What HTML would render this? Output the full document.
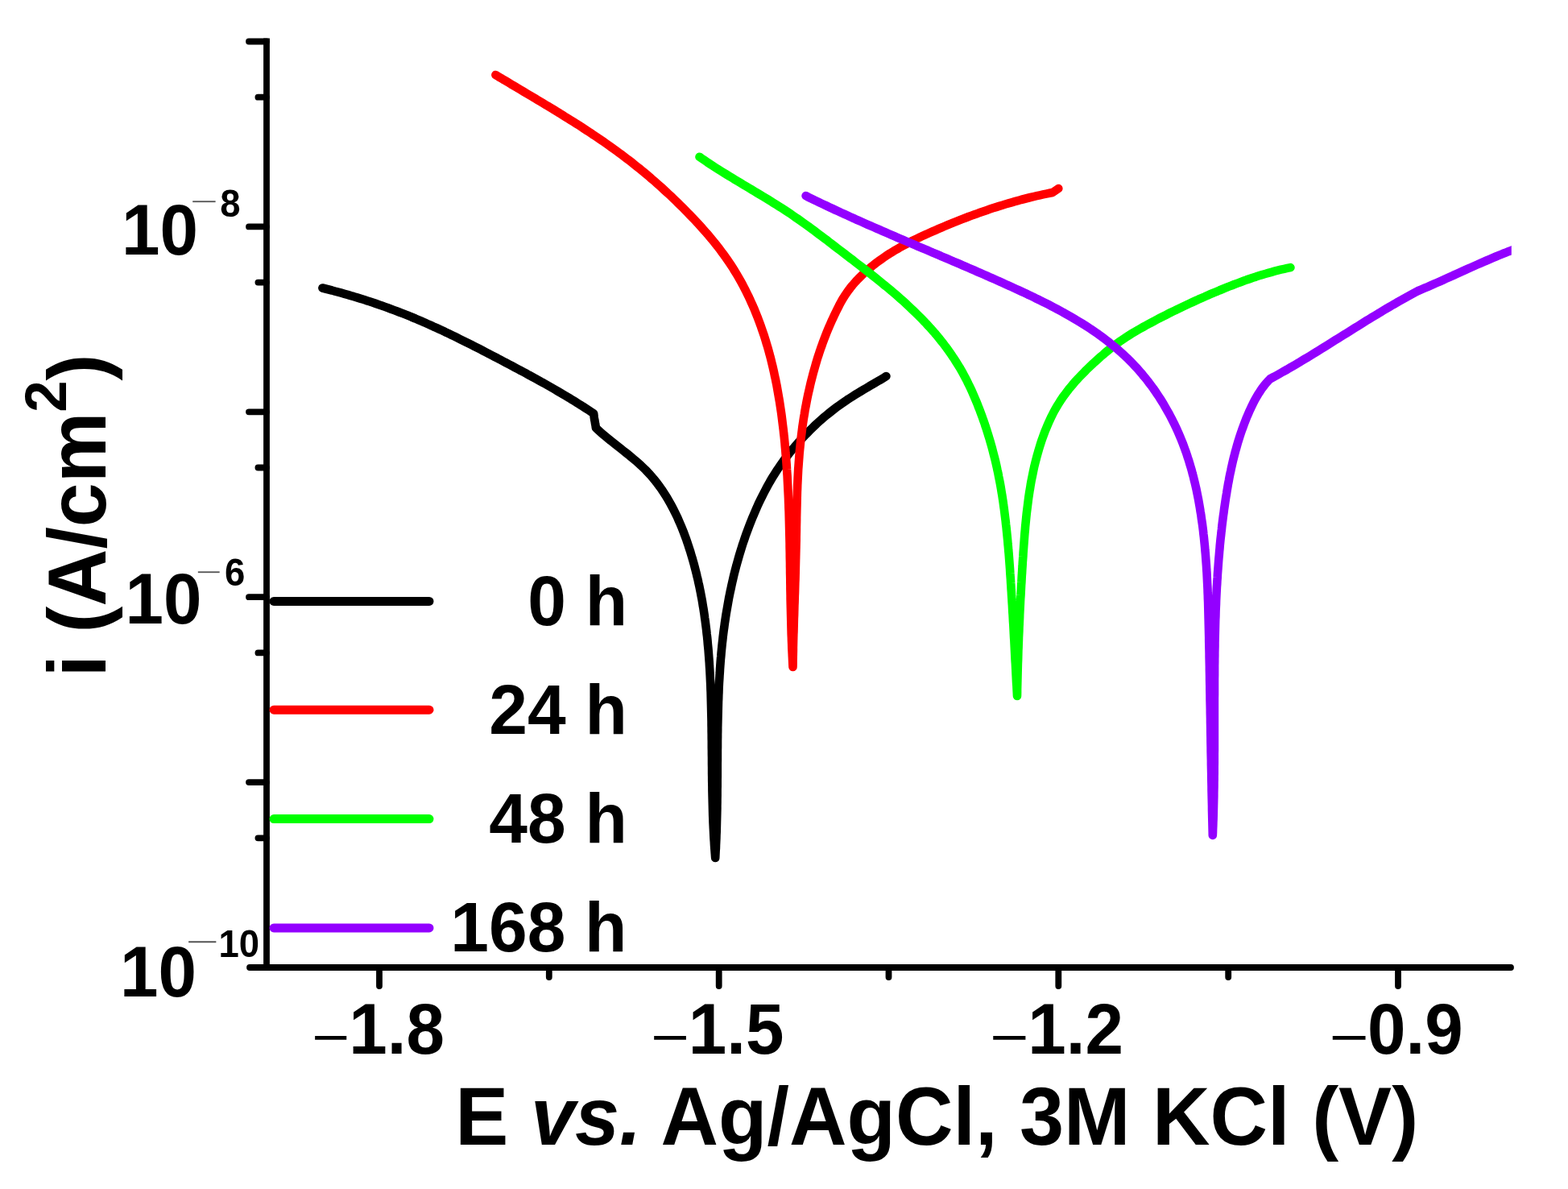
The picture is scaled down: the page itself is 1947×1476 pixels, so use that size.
<!DOCTYPE html>
<html><head><meta charset="utf-8"><title>Polarization curves</title>
<style>
html,body{margin:0;padding:0;background:#fff;}
body{width:1947px;height:1476px;overflow:hidden;}
svg{display:block;}
text{font-family:"Liberation Sans",Arial,sans-serif;fill:#000;}
.b{font-weight:bold;}
</style></head><body>
<svg width="1947" height="1476" viewBox="0 0 1947 1476">
<rect width="1947" height="1476" fill="#fff"/>
<defs><clipPath id="pc"><rect x="331" y="0" width="1545.8" height="1201"/></clipPath></defs>
<g clip-path="url(#pc)">
<path d="M400.4 357.5 L404.3 358.5 L408.3 359.5 L412.2 360.5 L416.1 361.6 L420.0 362.6 L423.9 363.7 L427.8 364.8 L431.7 365.9 L435.6 367.1 L439.5 368.2 L443.4 369.4 L447.3 370.6 L451.2 371.8 L455.0 373.1 L458.9 374.3 L462.7 375.6 L466.6 376.9 L470.4 378.2 L474.2 379.5 L478.0 380.9 L481.9 382.3 L485.7 383.7 L489.5 385.1 L493.2 386.5 L497.0 388.0 L500.8 389.4 L504.6 390.9 L508.3 392.4 L512.1 394.0 L515.8 395.5 L519.5 397.1 L523.2 398.7 L527.0 400.3 L530.7 402.0 L534.4 403.6 L538.0 405.3 L541.7 406.9 L545.4 408.6 L549.1 410.3 L552.7 412.1 L556.4 413.8 L560.0 415.6 L563.7 417.3 L567.3 419.1 L571.0 420.9 L574.6 422.7 L578.2 424.5 L581.8 426.3 L585.4 428.1 L589.1 430.0 L592.7 431.8 L596.3 433.6 L599.9 435.5 L603.5 437.4 L607.1 439.2 L610.7 441.1 L614.3 443.0 L617.9 444.8 L621.4 446.7 L625.0 448.6 L628.6 450.5 L632.2 452.4 L635.8 454.3 L639.4 456.2 L643.0 458.1 L646.5 460.0 L650.1 461.9 L653.7 463.8 L657.2 465.8 L660.8 467.7 L664.3 469.6 L667.9 471.6 L671.4 473.6 L675.0 475.5 L678.5 477.5 L682.0 479.5 L685.5 481.5 L689.0 483.5 L692.5 485.6 L696.0 487.6 L699.5 489.7 L703.0 491.8 L706.5 493.8 L709.9 495.9 L713.4 498.1 L716.8 500.2 L720.2 502.4 L723.7 504.5 L727.1 506.7 L730.5 508.9 L733.8 511.1 L737.2 513.4 L737.5 516.0 L737.8 518.5 L738.2 521.0 L738.7 523.6 L739.1 526.1 L739.6 528.7 L739.9 531.2 L742.8 533.9 L745.8 536.6 L748.8 539.2 L751.9 541.8 L755.0 544.3 L758.1 546.9 L761.3 549.4 L764.4 551.9 L767.6 554.4 L770.8 556.9 L774.0 559.5 L777.2 562.0 L780.4 564.5 L783.5 567.1 L786.6 569.7 L789.7 572.3 L792.8 575.0 L795.8 577.7 L798.7 580.5 L801.6 583.3 L804.4 586.2 L807.1 589.1 L809.7 592.2 L812.3 595.2 L814.8 598.3 L817.2 601.5 L819.6 604.7 L821.9 608.0 L824.1 611.4 L826.3 614.7 L828.4 618.1 L830.4 621.6 L832.4 625.1 L834.3 628.6 L836.2 632.2 L838.0 635.8 L839.8 639.5 L841.5 643.1 L843.1 646.8 L844.7 650.5 L846.3 654.3 L847.8 658.0 L849.3 661.8 L850.7 665.6 L852.1 669.4 L853.4 673.3 L854.7 677.1 L855.9 680.9 L857.2 684.8 L858.3 688.6 L859.5 692.5 L860.6 696.4 L861.7 700.2 L862.7 704.1 L863.7 708.0 L864.7 711.9 L865.6 715.8 L866.6 719.7 L867.4 723.6 L868.3 727.5 L869.1 731.5 L869.9 735.4 L870.6 739.3 L871.4 743.3 L872.1 747.2 L872.7 751.2 L873.4 755.1 L874.0 759.1 L874.6 763.0 L875.1 767.0 L875.7 771.0 L876.2 775.0 L876.7 778.9 L877.2 782.9 L877.6 786.9 L878.1 790.9 L878.5 794.9 L878.8 798.9 L879.2 802.9 L879.6 806.9 L879.9 811.0 L880.2 815.0 L880.5 819.0 L880.8 823.0 L881.0 827.0 L881.3 831.1 L881.5 835.1 L881.7 839.1 L881.9 843.2 L882.1 847.2 L882.3 851.2 L882.4 855.3 L882.6 859.3 L882.7 863.4 L882.8 867.4 L882.9 871.5 L883.0 875.5 L883.1 879.6 L883.2 883.6 L883.3 887.7 L883.4 891.7 L883.5 895.8 L883.5 899.8 L883.6 903.9 L883.6 907.9 L883.7 912.0 L883.7 916.0 L883.8 920.1 L883.8 924.1 L883.8 928.2 L883.9 932.3 L883.9 936.3 L884.0 940.4 L884.0 944.4 L884.0 948.5 L884.1 952.5 L884.1 956.6 L884.1 960.6 L884.2 964.7 L884.2 968.7 L884.3 972.7 L884.4 976.8 L884.4 980.8 L884.5 984.9 L884.6 988.9 L884.7 992.9 L884.8 997.0 L884.9 1001.0 L885.0 1005.0 L885.1 1009.0 L885.2 1013.1 L885.4 1017.1 L885.5 1021.1 L885.7 1025.1 L885.9 1029.1 L886.1 1033.1 L886.3 1037.1 L886.5 1041.1 L886.8 1045.1 L887.0 1049.1 L887.3 1053.1 L887.6 1057.0 L887.9 1061.0 L888.2 1065.0 L888.4 1061.0 L888.6 1056.9 L888.9 1052.9 L889.0 1048.9 L889.2 1044.8 L889.4 1040.8 L889.5 1036.7 L889.7 1032.7 L889.8 1028.7 L889.9 1024.6 L890.0 1020.6 L890.1 1016.5 L890.2 1012.5 L890.3 1008.4 L890.4 1004.4 L890.4 1000.4 L890.5 996.3 L890.5 992.3 L890.6 988.2 L890.6 984.2 L890.6 980.1 L890.7 976.1 L890.7 972.1 L890.7 968.0 L890.8 964.0 L890.8 959.9 L890.8 955.9 L890.8 951.8 L890.8 947.8 L890.9 943.7 L890.9 939.7 L890.9 935.6 L890.9 931.6 L891.0 927.6 L891.0 923.5 L891.0 919.5 L891.1 915.4 L891.1 911.4 L891.2 907.3 L891.2 903.3 L891.3 899.3 L891.4 895.2 L891.5 891.2 L891.6 887.1 L891.7 883.1 L891.8 879.1 L891.9 875.0 L892.0 871.0 L892.2 866.9 L892.3 862.9 L892.5 858.9 L892.6 854.8 L892.8 850.8 L893.0 846.8 L893.3 842.7 L893.5 838.7 L893.8 834.7 L894.0 830.7 L894.3 826.6 L894.6 822.6 L894.9 818.6 L895.3 814.5 L895.6 810.5 L896.0 806.5 L896.4 802.5 L896.8 798.5 L897.3 794.4 L897.7 790.4 L898.2 786.4 L898.7 782.4 L899.3 778.4 L899.8 774.4 L900.4 770.4 L901.0 766.4 L901.6 762.4 L902.3 758.4 L903.0 754.4 L903.7 750.4 L904.4 746.4 L905.1 742.4 L905.9 738.5 L906.7 734.5 L907.6 730.5 L908.4 726.6 L909.3 722.6 L910.2 718.7 L911.1 714.8 L912.1 710.8 L913.1 706.9 L914.1 703.0 L915.2 699.1 L916.3 695.2 L917.4 691.3 L918.5 687.5 L919.7 683.6 L920.9 679.7 L922.1 675.9 L923.4 672.1 L924.7 668.2 L926.0 664.4 L927.4 660.6 L928.8 656.8 L930.2 653.1 L931.7 649.3 L933.2 645.6 L934.7 641.8 L936.3 638.1 L937.9 634.4 L939.5 630.7 L941.1 627.0 L942.8 623.3 L944.6 619.7 L946.4 616.1 L948.2 612.5 L950.1 608.9 L952.0 605.3 L953.9 601.8 L955.9 598.2 L957.9 594.8 L960.0 591.3 L962.2 587.9 L964.3 584.5 L966.6 581.1 L968.9 577.8 L971.2 574.5 L973.6 571.2 L976.0 567.9 L978.5 564.7 L981.0 561.5 L983.5 558.4 L986.1 555.3 L988.8 552.2 L991.4 549.2 L994.1 546.2 L996.9 543.2 L999.6 540.3 L1002.5 537.4 L1005.3 534.5 L1008.2 531.7 L1011.1 528.9 L1014.0 526.1 L1017.0 523.4 L1020.0 520.8 L1023.1 518.1 L1026.2 515.5 L1029.3 513.0 L1032.4 510.5 L1035.6 508.0 L1038.8 505.6 L1042.1 503.2 L1045.4 500.9 L1048.7 498.6 L1052.0 496.3 L1055.4 494.1 L1058.8 492.0 L1062.2 489.8 L1065.6 487.7 L1069.1 485.6 L1072.6 483.5 L1076.1 481.5 L1079.5 479.4 L1083.0 477.4 L1086.5 475.4 L1090.0 473.3 L1093.5 471.3 L1097.0 469.2 L1100.4 467.1" fill="none" stroke="#000000" stroke-width="10.6" stroke-linecap="round" stroke-linejoin="round"/>
<path d="M615.4 93.0 L618.8 95.1 L622.3 97.1 L625.7 99.2 L629.2 101.2 L632.7 103.3 L636.1 105.4 L639.6 107.4 L643.1 109.5 L646.5 111.5 L650.0 113.6 L653.5 115.7 L656.9 117.7 L660.4 119.8 L663.9 121.8 L667.3 123.9 L670.8 126.0 L674.2 128.1 L677.7 130.2 L681.2 132.2 L684.6 134.3 L688.1 136.4 L691.5 138.5 L695.0 140.6 L698.4 142.8 L701.8 144.9 L705.2 147.0 L708.7 149.2 L712.1 151.3 L715.5 153.5 L718.9 155.6 L722.3 157.8 L725.6 160.0 L729.0 162.2 L732.4 164.4 L735.7 166.7 L739.1 168.9 L742.4 171.1 L745.7 173.4 L749.1 175.7 L752.4 178.0 L755.6 180.3 L758.9 182.6 L762.2 185.0 L765.4 187.3 L768.7 189.7 L771.9 192.1 L775.1 194.5 L778.3 196.9 L781.5 199.3 L784.7 201.8 L787.8 204.3 L790.9 206.8 L794.1 209.3 L797.2 211.8 L800.3 214.4 L803.3 216.9 L806.4 219.5 L809.4 222.2 L812.5 224.8 L815.5 227.4 L818.5 230.1 L821.5 232.8 L824.4 235.5 L827.4 238.2 L830.4 241.0 L833.3 243.7 L836.2 246.5 L839.1 249.3 L842.0 252.1 L844.9 255.0 L847.8 257.8 L850.7 260.7 L853.5 263.6 L856.3 266.5 L859.2 269.5 L862.0 272.4 L864.8 275.4 L867.6 278.4 L870.3 281.4 L873.0 284.5 L875.7 287.5 L878.4 290.6 L881.1 293.7 L883.7 296.8 L886.3 300.0 L888.8 303.1 L891.3 306.3 L893.8 309.5 L896.2 312.8 L898.6 316.0 L901.0 319.3 L903.3 322.6 L905.6 326.0 L907.8 329.3 L910.0 332.7 L912.1 336.1 L914.2 339.5 L916.2 342.9 L918.2 346.4 L920.2 349.9 L922.1 353.4 L923.9 356.9 L925.8 360.5 L927.5 364.0 L929.3 367.6 L931.0 371.2 L932.6 374.8 L934.3 378.5 L935.9 382.1 L937.4 385.8 L938.9 389.5 L940.4 393.2 L941.8 396.9 L943.2 400.6 L944.6 404.4 L945.9 408.2 L947.2 411.9 L948.5 415.7 L949.7 419.5 L950.9 423.4 L952.0 427.2 L953.2 431.0 L954.3 434.9 L955.3 438.8 L956.4 442.6 L957.4 446.5 L958.3 450.4 L959.3 454.4 L960.2 458.3 L961.1 462.2 L961.9 466.2 L962.8 470.1 L963.6 474.1 L964.4 478.0 L965.1 482.0 L965.8 486.0 L966.5 490.0 L967.2 494.0 L967.9 498.0 L968.5 502.0 L969.1 506.0 L969.7 510.0 L970.3 514.0 L970.8 518.0 L971.3 522.0 L971.8 526.1 L972.3 530.1 L972.8 534.1 L973.2 538.2 L973.7 542.2 L974.1 546.2 L974.5 550.3 L974.8 554.3 L975.2 558.4 L975.5 562.4 L975.9 566.4 L976.2 570.5 L976.5 574.5 L976.8 578.5 L977.0 582.6 L977.3 586.6 L977.6 590.6 L977.8 594.7 L978.0 598.7 L978.2 602.7 L978.4 606.7 L978.6 610.8 L978.8 614.8 L979.0 618.8 L979.1 622.8 L979.3 626.8 L979.4 630.9 L979.6 634.9 L979.7 638.9 L979.8 642.9 L979.9 646.9 L980.0 650.9 L980.1 655.0 L980.2 659.0 L980.3 663.0 L980.4 667.0 L980.5 671.0 L980.6 675.0 L980.6 679.0 L980.7 683.1 L980.8 687.1 L980.8 691.1 L980.9 695.1 L981.0 699.1 L981.0 703.1 L981.1 707.1 L981.1 711.1 L981.2 715.2 L981.3 719.2 L981.3 723.2 L981.4 727.2 L981.4 731.2 L981.5 735.2 L981.6 739.3 L981.6 743.3 L981.7 747.3 L981.8 751.3 L981.9 755.4 L982.0 759.4 L982.1 763.4 L982.2 767.4 L982.3 771.5 L982.4 775.5 L982.5 779.5 L982.6 783.5 L982.7 787.6 L982.9 791.6 L983.0 795.6 L983.2 799.7 L983.3 803.7 L983.5 807.8 L983.7 811.8 L983.9 815.9 L984.1 819.9 L984.3 824.0 L984.5 828.0 L984.6 824.0 L984.6 820.0 L984.7 815.9 L984.8 811.9 L984.9 807.9 L984.9 803.9 L985.0 799.9 L985.1 795.8 L985.2 791.8 L985.3 787.8 L985.5 783.7 L985.6 779.7 L985.7 775.7 L985.8 771.7 L985.9 767.6 L986.1 763.6 L986.2 759.6 L986.3 755.5 L986.4 751.5 L986.6 747.5 L986.7 743.4 L986.8 739.4 L987.0 735.4 L987.1 731.3 L987.2 727.3 L987.3 723.3 L987.5 719.2 L987.6 715.2 L987.7 711.2 L987.8 707.1 L987.9 703.1 L988.0 699.1 L988.1 695.0 L988.2 691.0 L988.3 687.0 L988.4 683.0 L988.5 678.9 L988.6 674.9 L988.7 670.9 L988.7 666.9 L988.8 662.8 L988.9 658.8 L988.9 654.8 L989.0 650.8 L989.1 646.8 L989.1 642.8 L989.2 638.7 L989.3 634.7 L989.4 630.7 L989.5 626.7 L989.6 622.7 L989.7 618.7 L989.8 614.6 L989.9 610.6 L990.1 606.6 L990.2 602.6 L990.4 598.6 L990.6 594.6 L990.8 590.6 L991.0 586.5 L991.2 582.5 L991.5 578.5 L991.8 574.5 L992.1 570.5 L992.4 566.5 L992.7 562.4 L993.1 558.4 L993.5 554.4 L993.9 550.4 L994.3 546.4 L994.8 542.4 L995.3 538.3 L995.8 534.3 L996.3 530.3 L996.9 526.3 L997.5 522.3 L998.1 518.3 L998.8 514.4 L999.4 510.4 L1000.1 506.4 L1000.9 502.4 L1001.6 498.5 L1002.4 494.5 L1003.2 490.5 L1004.1 486.6 L1005.0 482.7 L1005.9 478.7 L1006.8 474.8 L1007.8 470.9 L1008.8 467.0 L1009.8 463.1 L1010.9 459.2 L1012.0 455.4 L1013.1 451.5 L1014.2 447.7 L1015.4 443.8 L1016.7 440.0 L1017.9 436.2 L1019.2 432.4 L1020.6 428.6 L1021.9 424.8 L1023.3 421.1 L1024.8 417.3 L1026.2 413.6 L1027.7 409.9 L1029.3 406.2 L1030.9 402.5 L1032.5 398.8 L1034.2 395.2 L1035.9 391.6 L1037.6 388.0 L1039.4 384.4 L1041.2 380.8 L1043.0 377.2 L1044.9 373.7 L1046.9 370.3 L1049.1 366.9 L1051.3 363.6 L1053.6 360.4 L1056.0 357.2 L1058.5 354.1 L1061.1 351.1 L1063.8 348.1 L1066.6 345.2 L1069.4 342.4 L1072.3 339.6 L1075.3 336.9 L1078.3 334.2 L1081.4 331.6 L1084.6 329.0 L1087.8 326.6 L1091.0 324.1 L1094.3 321.8 L1097.6 319.5 L1101.0 317.2 L1104.3 315.0 L1107.7 312.9 L1111.2 310.8 L1114.7 308.8 L1118.1 306.8 L1121.7 304.9 L1125.2 303.0 L1128.8 301.1 L1132.3 299.3 L1135.9 297.5 L1139.6 295.8 L1143.2 294.0 L1146.8 292.3 L1150.5 290.7 L1154.2 289.0 L1157.8 287.4 L1161.5 285.8 L1165.2 284.2 L1168.9 282.6 L1172.6 281.0 L1176.4 279.4 L1180.1 277.9 L1183.8 276.4 L1187.6 274.9 L1191.3 273.4 L1195.1 271.9 L1198.8 270.5 L1202.6 269.0 L1206.4 267.6 L1210.2 266.2 L1214.0 264.9 L1217.8 263.5 L1221.6 262.2 L1225.4 260.9 L1229.2 259.6 L1233.0 258.3 L1236.9 257.1 L1240.7 255.9 L1244.6 254.7 L1248.4 253.5 L1252.3 252.4 L1256.1 251.3 L1260.0 250.2 L1263.9 249.1 L1267.8 248.0 L1271.7 247.0 L1275.6 246.0 L1279.5 245.0 L1283.4 244.1 L1287.3 243.2 L1291.2 242.3 L1295.2 241.4 L1299.1 240.6 L1303.1 239.8 L1307.0 239.0 L1314.3 234.0" fill="none" stroke="#ff0000" stroke-width="10.6" stroke-linecap="round" stroke-linejoin="round"/>
<path d="M868.5 194.7 L871.8 197.0 L875.1 199.2 L878.4 201.5 L881.8 203.7 L885.1 205.9 L888.5 208.1 L891.9 210.2 L895.3 212.4 L898.7 214.5 L902.2 216.6 L905.6 218.7 L909.1 220.8 L912.5 222.9 L916.0 225.0 L919.4 227.1 L922.9 229.2 L926.4 231.3 L929.8 233.3 L933.3 235.4 L936.8 237.5 L940.3 239.6 L943.7 241.6 L947.2 243.7 L950.6 245.8 L954.1 247.9 L957.5 250.0 L960.9 252.2 L964.3 254.3 L967.7 256.5 L971.1 258.6 L974.5 260.8 L977.9 263.0 L981.2 265.2 L984.5 267.5 L987.8 269.8 L991.1 272.0 L994.4 274.3 L997.7 276.7 L1000.9 279.0 L1004.2 281.3 L1007.4 283.7 L1010.6 286.1 L1013.8 288.5 L1017.0 290.9 L1020.2 293.3 L1023.4 295.7 L1026.6 298.1 L1029.8 300.6 L1033.0 303.0 L1036.2 305.5 L1039.4 307.9 L1042.6 310.4 L1045.8 312.8 L1049.0 315.3 L1052.2 317.7 L1055.4 320.2 L1058.6 322.6 L1061.8 325.1 L1065.0 327.6 L1068.2 330.0 L1071.4 332.5 L1074.6 335.0 L1077.8 337.5 L1081.0 340.0 L1084.1 342.5 L1087.3 345.0 L1090.5 347.6 L1093.6 350.1 L1096.7 352.7 L1099.9 355.2 L1103.0 357.8 L1106.1 360.4 L1109.2 363.0 L1112.2 365.6 L1115.3 368.3 L1118.3 371.0 L1121.3 373.6 L1124.3 376.3 L1127.3 379.1 L1130.2 381.8 L1133.1 384.6 L1136.0 387.4 L1138.9 390.2 L1141.7 393.0 L1144.5 395.8 L1147.3 398.7 L1150.1 401.6 L1152.8 404.6 L1155.5 407.5 L1158.1 410.5 L1160.8 413.5 L1163.4 416.6 L1165.9 419.7 L1168.4 422.8 L1170.9 425.9 L1173.3 429.1 L1175.7 432.3 L1178.1 435.6 L1180.4 438.8 L1182.6 442.2 L1184.9 445.5 L1187.0 448.9 L1189.2 452.3 L1191.3 455.7 L1193.3 459.2 L1195.3 462.7 L1197.2 466.2 L1199.1 469.8 L1201.0 473.4 L1202.7 477.0 L1204.5 480.6 L1206.2 484.3 L1207.8 487.9 L1209.4 491.6 L1211.0 495.3 L1212.6 499.1 L1214.1 502.8 L1215.5 506.6 L1217.0 510.3 L1218.4 514.1 L1219.8 517.9 L1221.1 521.7 L1222.5 525.5 L1223.7 529.3 L1225.0 533.1 L1226.2 537.0 L1227.4 540.8 L1228.6 544.7 L1229.7 548.5 L1230.8 552.4 L1231.9 556.3 L1232.9 560.2 L1233.9 564.1 L1234.9 567.9 L1235.9 571.9 L1236.8 575.8 L1237.7 579.7 L1238.5 583.6 L1239.4 587.5 L1240.1 591.5 L1240.9 595.4 L1241.7 599.4 L1242.4 603.3 L1243.1 607.3 L1243.7 611.2 L1244.4 615.2 L1245.0 619.2 L1245.6 623.1 L1246.1 627.1 L1246.7 631.1 L1247.2 635.1 L1247.7 639.1 L1248.2 643.1 L1248.7 647.1 L1249.1 651.1 L1249.6 655.1 L1250.0 659.1 L1250.4 663.1 L1250.8 667.1 L1251.2 671.1 L1251.5 675.1 L1251.9 679.1 L1252.2 683.1 L1252.6 687.1 L1252.9 691.2 L1253.2 695.2 L1253.5 699.2 L1253.8 703.2 L1254.1 707.2 L1254.3 711.3 L1254.6 715.3 L1254.9 719.3 L1255.1 723.3 L1255.4 727.3 L1255.6 731.4 L1255.9 735.4 L1256.1 739.4 L1256.4 743.4 L1256.6 747.4 L1256.9 751.5 L1257.1 755.5 L1257.3 759.5 L1257.6 763.5 L1257.8 767.5 L1258.0 771.6 L1258.3 775.6 L1258.5 779.6 L1258.7 783.6 L1258.9 787.6 L1259.1 791.6 L1259.4 795.7 L1259.6 799.7 L1259.8 803.7 L1260.0 807.7 L1260.2 811.7 L1260.4 815.8 L1260.6 819.8 L1260.9 823.8 L1261.1 827.8 L1261.3 831.8 L1261.5 835.9 L1261.7 839.9 L1261.9 843.9 L1262.1 847.9 L1262.4 851.9 L1262.6 856.0 L1262.8 860.0 L1263.0 864.0 L1263.1 860.0 L1263.1 855.9 L1263.2 851.9 L1263.3 847.8 L1263.4 843.8 L1263.5 839.7 L1263.6 835.7 L1263.7 831.7 L1263.8 827.6 L1263.9 823.6 L1264.1 819.5 L1264.2 815.5 L1264.3 811.5 L1264.4 807.4 L1264.6 803.4 L1264.7 799.3 L1264.9 795.3 L1265.0 791.3 L1265.2 787.2 L1265.4 783.2 L1265.5 779.1 L1265.7 775.1 L1265.9 771.1 L1266.1 767.0 L1266.2 763.0 L1266.4 759.0 L1266.6 754.9 L1266.8 750.9 L1267.0 746.8 L1267.2 742.8 L1267.5 738.8 L1267.7 734.7 L1267.9 730.7 L1268.1 726.7 L1268.4 722.6 L1268.6 718.6 L1268.8 714.6 L1269.1 710.5 L1269.3 706.5 L1269.6 702.4 L1269.8 698.4 L1270.1 694.4 L1270.4 690.3 L1270.6 686.3 L1270.9 682.3 L1271.2 678.2 L1271.5 674.2 L1271.8 670.2 L1272.1 666.1 L1272.4 662.1 L1272.8 658.1 L1273.1 654.0 L1273.5 650.0 L1273.9 646.0 L1274.3 642.0 L1274.7 637.9 L1275.2 633.9 L1275.7 629.9 L1276.2 625.9 L1276.7 621.9 L1277.2 617.9 L1277.8 613.9 L1278.4 609.9 L1279.1 606.0 L1279.7 602.0 L1280.4 598.0 L1281.2 594.0 L1282.0 590.1 L1282.8 586.1 L1283.6 582.2 L1284.5 578.2 L1285.5 574.3 L1286.5 570.4 L1287.5 566.5 L1288.6 562.6 L1289.7 558.7 L1290.9 554.8 L1292.1 550.9 L1293.3 547.1 L1294.7 543.2 L1296.1 539.4 L1297.5 535.6 L1299.0 531.9 L1300.6 528.1 L1302.2 524.4 L1303.9 520.7 L1305.6 517.1 L1307.4 513.5 L1309.3 509.9 L1311.3 506.4 L1313.3 503.0 L1315.5 499.5 L1317.6 496.2 L1319.9 492.8 L1322.3 489.6 L1324.7 486.4 L1327.1 483.2 L1329.7 480.1 L1332.3 477.0 L1334.9 473.9 L1337.7 470.9 L1340.4 468.0 L1343.2 465.1 L1346.1 462.2 L1348.9 459.3 L1351.8 456.5 L1354.8 453.7 L1357.7 450.9 L1360.7 448.2 L1363.7 445.5 L1366.7 442.8 L1369.8 440.2 L1372.8 437.5 L1375.9 435.0 L1379.1 432.4 L1382.2 430.0 L1385.4 427.5 L1388.7 425.2 L1392.0 422.8 L1395.3 420.6 L1398.6 418.4 L1402.0 416.2 L1405.4 414.1 L1408.9 412.0 L1412.3 410.0 L1415.8 408.0 L1419.4 406.0 L1422.9 404.0 L1426.4 402.1 L1430.0 400.2 L1433.5 398.3 L1437.1 396.4 L1440.7 394.5 L1444.3 392.7 L1447.9 390.9 L1451.5 389.0 L1455.1 387.2 L1458.8 385.5 L1462.4 383.7 L1466.1 381.9 L1469.7 380.2 L1473.4 378.5 L1477.1 376.8 L1480.7 375.1 L1484.4 373.4 L1488.1 371.7 L1491.8 370.1 L1495.5 368.5 L1499.2 366.8 L1502.9 365.2 L1506.6 363.6 L1510.4 362.1 L1514.1 360.5 L1517.8 359.0 L1521.6 357.4 L1525.3 355.9 L1529.1 354.5 L1532.8 353.0 L1536.6 351.6 L1540.4 350.2 L1544.1 348.8 L1547.9 347.4 L1551.8 346.1 L1555.6 344.8 L1559.4 343.6 L1563.2 342.3 L1567.1 341.1 L1571.0 340.0 L1574.8 338.9 L1578.7 337.8 L1582.6 336.7 L1586.6 335.7 L1590.5 334.7 L1594.5 333.8 L1598.4 332.9 L1602.4 332.1" fill="none" stroke="#00ff00" stroke-width="10.6" stroke-linecap="round" stroke-linejoin="round"/>
<path d="M1000.6 243.1 L1004.2 244.9 L1007.9 246.7 L1011.5 248.5 L1015.2 250.2 L1018.8 252.0 L1022.5 253.7 L1026.1 255.4 L1029.8 257.2 L1033.5 258.9 L1037.1 260.6 L1040.8 262.3 L1044.4 264.0 L1048.1 265.6 L1051.8 267.3 L1055.4 269.0 L1059.1 270.6 L1062.7 272.3 L1066.4 273.9 L1070.1 275.5 L1073.8 277.2 L1077.4 278.8 L1081.1 280.4 L1084.8 282.0 L1088.4 283.6 L1092.1 285.2 L1095.8 286.8 L1099.5 288.4 L1103.1 290.0 L1106.8 291.6 L1110.5 293.2 L1114.2 294.8 L1117.8 296.3 L1121.5 297.9 L1125.2 299.5 L1128.9 301.1 L1132.6 302.6 L1136.2 304.2 L1139.9 305.8 L1143.6 307.3 L1147.3 308.9 L1151.0 310.4 L1154.6 312.0 L1158.3 313.6 L1162.0 315.1 L1165.7 316.7 L1169.4 318.3 L1173.1 319.8 L1176.8 321.4 L1180.4 323.0 L1184.1 324.6 L1187.8 326.1 L1191.5 327.7 L1195.2 329.3 L1198.9 330.9 L1202.6 332.5 L1206.3 334.1 L1210.0 335.7 L1213.6 337.3 L1217.3 338.9 L1221.0 340.5 L1224.7 342.1 L1228.4 343.8 L1232.1 345.4 L1235.8 347.0 L1239.5 348.7 L1243.2 350.3 L1246.8 352.0 L1250.5 353.7 L1254.2 355.3 L1257.9 357.0 L1261.6 358.7 L1265.3 360.4 L1269.0 362.1 L1272.7 363.8 L1276.3 365.6 L1280.0 367.3 L1283.7 369.1 L1287.3 370.9 L1291.0 372.6 L1294.6 374.5 L1298.3 376.3 L1301.9 378.1 L1305.5 380.0 L1309.1 381.9 L1312.7 383.8 L1316.2 385.7 L1319.8 387.6 L1323.3 389.6 L1326.9 391.6 L1330.4 393.6 L1333.8 395.6 L1337.3 397.7 L1340.7 399.8 L1344.2 401.9 L1347.6 404.0 L1350.9 406.2 L1354.3 408.4 L1357.6 410.7 L1360.9 412.9 L1364.2 415.2 L1367.4 417.6 L1370.6 419.9 L1373.8 422.4 L1376.9 424.8 L1380.0 427.3 L1383.1 429.8 L1386.2 432.3 L1389.2 434.9 L1392.2 437.6 L1395.1 440.2 L1398.0 443.0 L1400.9 445.7 L1403.7 448.5 L1406.5 451.4 L1409.2 454.3 L1411.9 457.2 L1414.6 460.2 L1417.2 463.2 L1419.7 466.3 L1422.3 469.4 L1424.8 472.5 L1427.2 475.7 L1429.6 478.9 L1432.0 482.1 L1434.3 485.4 L1436.5 488.7 L1438.8 492.1 L1441.0 495.5 L1443.1 498.9 L1445.2 502.3 L1447.2 505.8 L1449.2 509.3 L1451.2 512.8 L1453.1 516.4 L1455.0 520.0 L1456.8 523.6 L1458.6 527.2 L1460.3 530.8 L1462.0 534.5 L1463.6 538.2 L1465.2 541.9 L1466.8 545.7 L1468.3 549.4 L1469.7 553.2 L1471.1 557.0 L1472.5 560.8 L1473.8 564.6 L1475.0 568.4 L1476.3 572.2 L1477.4 576.1 L1478.6 580.0 L1479.7 583.8 L1480.7 587.7 L1481.8 591.6 L1482.7 595.5 L1483.7 599.5 L1484.6 603.4 L1485.5 607.3 L1486.3 611.3 L1487.1 615.2 L1487.9 619.2 L1488.6 623.2 L1489.3 627.2 L1490.0 631.1 L1490.6 635.1 L1491.3 639.1 L1491.8 643.1 L1492.4 647.1 L1493.0 651.1 L1493.5 655.1 L1494.0 659.1 L1494.4 663.1 L1494.9 667.1 L1495.3 671.1 L1495.7 675.1 L1496.1 679.1 L1496.4 683.1 L1496.8 687.1 L1497.1 691.1 L1497.4 695.1 L1497.7 699.2 L1498.0 703.2 L1498.2 707.2 L1498.5 711.2 L1498.7 715.2 L1498.9 719.2 L1499.1 723.2 L1499.3 727.2 L1499.5 731.2 L1499.6 735.3 L1499.8 739.3 L1499.9 743.3 L1500.1 747.3 L1500.2 751.3 L1500.3 755.3 L1500.4 759.4 L1500.5 763.4 L1500.6 767.4 L1500.7 771.4 L1500.8 775.4 L1500.9 779.4 L1501.0 783.5 L1501.1 787.5 L1501.2 791.5 L1501.2 795.5 L1501.3 799.5 L1501.4 803.6 L1501.5 807.6 L1501.6 811.6 L1501.6 815.6 L1501.7 819.7 L1501.8 823.7 L1501.9 827.7 L1501.9 831.7 L1502.0 835.7 L1502.1 839.8 L1502.1 843.8 L1502.2 847.8 L1502.3 851.8 L1502.3 855.9 L1502.4 859.9 L1502.5 863.9 L1502.5 867.9 L1502.6 872.0 L1502.7 876.0 L1502.8 880.0 L1502.8 884.1 L1502.9 888.1 L1503.0 892.1 L1503.0 896.1 L1503.1 900.2 L1503.2 904.2 L1503.2 908.2 L1503.3 912.2 L1503.4 916.3 L1503.4 920.3 L1503.5 924.3 L1503.6 928.3 L1503.6 932.4 L1503.7 936.4 L1503.8 940.4 L1503.9 944.4 L1503.9 948.5 L1504.0 952.5 L1504.1 956.5 L1504.2 960.6 L1504.2 964.6 L1504.3 968.6 L1504.4 972.6 L1504.5 976.7 L1504.5 980.7 L1504.6 984.7 L1504.7 988.7 L1504.8 992.8 L1504.9 996.8 L1505.0 1000.8 L1505.0 1004.8 L1505.1 1008.8 L1505.2 1012.9 L1505.3 1016.9 L1505.4 1020.9 L1505.5 1024.9 L1505.6 1029.0 L1505.7 1033.0 L1505.8 1037.0 L1506.0 1032.9 L1506.1 1028.9 L1506.3 1024.8 L1506.4 1020.8 L1506.6 1016.7 L1506.7 1012.7 L1506.8 1008.6 L1506.9 1004.6 L1507.0 1000.5 L1507.1 996.5 L1507.2 992.4 L1507.3 988.4 L1507.3 984.3 L1507.4 980.3 L1507.5 976.2 L1507.5 972.1 L1507.6 968.1 L1507.6 964.0 L1507.7 960.0 L1507.7 955.9 L1507.7 951.9 L1507.8 947.8 L1507.8 943.8 L1507.8 939.7 L1507.8 935.7 L1507.9 931.6 L1507.9 927.6 L1507.9 923.5 L1507.9 919.4 L1507.9 915.4 L1507.9 911.3 L1507.9 907.3 L1507.9 903.2 L1507.9 899.2 L1507.9 895.1 L1507.9 891.1 L1507.9 887.0 L1507.9 883.0 L1507.9 878.9 L1507.9 874.9 L1507.9 870.8 L1507.9 866.8 L1508.0 862.7 L1508.0 858.7 L1508.0 854.6 L1508.0 850.6 L1508.0 846.5 L1508.0 842.5 L1508.1 838.4 L1508.1 834.4 L1508.1 830.3 L1508.1 826.3 L1508.2 822.2 L1508.2 818.2 L1508.3 814.1 L1508.3 810.1 L1508.4 806.0 L1508.5 802.0 L1508.5 797.9 L1508.6 793.9 L1508.7 789.8 L1508.8 785.8 L1508.9 781.8 L1509.0 777.7 L1509.1 773.7 L1509.2 769.6 L1509.4 765.6 L1509.5 761.5 L1509.6 757.5 L1509.8 753.4 L1510.0 749.4 L1510.1 745.4 L1510.3 741.3 L1510.5 737.3 L1510.7 733.2 L1510.9 729.2 L1511.2 725.2 L1511.4 721.1 L1511.7 717.1 L1511.9 713.0 L1512.2 709.0 L1512.5 705.0 L1512.8 700.9 L1513.1 696.9 L1513.4 692.9 L1513.8 688.8 L1514.1 684.8 L1514.5 680.8 L1514.8 676.7 L1515.2 672.7 L1515.6 668.7 L1516.1 664.6 L1516.5 660.6 L1517.0 656.6 L1517.4 652.5 L1517.9 648.5 L1518.4 644.5 L1518.9 640.5 L1519.5 636.4 L1520.0 632.4 L1520.6 628.4 L1521.2 624.3 L1521.8 620.3 L1522.4 616.3 L1523.1 612.3 L1523.7 608.3 L1524.4 604.3 L1525.1 600.2 L1525.9 596.2 L1526.6 592.2 L1527.4 588.3 L1528.3 584.3 L1529.1 580.3 L1530.0 576.3 L1530.9 572.4 L1531.9 568.4 L1532.9 564.5 L1533.9 560.6 L1535.0 556.7 L1536.1 552.8 L1537.2 548.9 L1538.4 545.1 L1539.6 541.2 L1540.9 537.4 L1542.2 533.6 L1543.6 529.8 L1545.0 526.0 L1546.4 522.3 L1547.9 518.5 L1549.5 514.8 L1551.1 511.1 L1552.8 507.5 L1554.5 503.8 L1556.3 500.2 L1558.1 496.6 L1560.1 493.1 L1562.1 489.7 L1564.3 486.3 L1566.5 482.9 L1568.9 479.7 L1571.4 476.5 L1574.1 473.5 L1576.9 470.5 L1580.5 468.5 L1584.1 466.6 L1587.7 464.6 L1591.3 462.5 L1594.9 460.5 L1598.5 458.5 L1602.0 456.4 L1605.6 454.3 L1609.1 452.3 L1612.7 450.2 L1616.2 448.0 L1619.7 445.9 L1623.3 443.8 L1626.8 441.7 L1630.3 439.5 L1633.8 437.4 L1637.3 435.2 L1640.8 433.0 L1644.3 430.9 L1647.8 428.7 L1651.3 426.5 L1654.8 424.3 L1658.3 422.1 L1661.8 419.9 L1665.3 417.8 L1668.8 415.6 L1672.3 413.4 L1675.8 411.2 L1679.3 409.0 L1682.8 406.8 L1686.3 404.7 L1689.8 402.5 L1693.3 400.3 L1696.8 398.1 L1700.3 396.0 L1703.8 393.8 L1707.3 391.7 L1710.9 389.6 L1714.4 387.4 L1717.9 385.3 L1721.5 383.2 L1725.0 381.1 L1728.6 379.0 L1732.2 377.0 L1735.7 374.9 L1739.3 372.9 L1742.9 370.9 L1746.5 368.9 L1750.1 366.9 L1753.7 364.9 L1757.4 362.9 L1761.0 361.0 L1764.9 359.4 L1768.8 357.7 L1772.7 356.1 L1776.5 354.4 L1780.4 352.7 L1784.2 351.0 L1788.1 349.3 L1791.9 347.6 L1795.8 345.8 L1799.6 344.1 L1803.5 342.4 L1807.3 340.6 L1811.2 338.9 L1815.0 337.2 L1818.9 335.4 L1822.7 333.7 L1826.5 332.0 L1830.4 330.2 L1834.3 328.5 L1838.1 326.8 L1842.0 325.1 L1845.8 323.5 L1849.7 321.8 L1853.6 320.1 L1857.5 318.5 L1861.4 316.9 L1865.3 315.3 L1869.2 313.8 L1873.1 312.2 L1877.1 310.7 L1881.0 309.3 L1885.0 307.8" fill="none" stroke="#9300ff" stroke-width="10.6" stroke-linecap="round" stroke-linejoin="round"/>
</g>
<path d="M310 1201.0 H1876.0 M309 51.5 H331.0 M320.4 120.7 H331.0 M309 281.4 H331.0 M320.4 350.6 H331.0 M309 511.3 H331.0 M320.4 580.5 H331.0 M309 741.2 H331.0 M320.4 810.4 H331.0 M309 971.1 H331.0 M320.4 1040.3 H331.0 M471.0 1201.0 V1224 M892.7 1201.0 V1224 M1314.3 1201.0 V1224 M1736.0 1201.0 V1224 M681.8 1201.0 V1213 M1103.5 1201.0 V1213 M1525.2 1201.0 V1213" fill="none" stroke="#000" stroke-width="7.8" stroke-linecap="round" stroke-linejoin="miter"/>
<path d="M331.0 51.5 V1201.0" fill="none" stroke="#000" stroke-width="7.8" stroke-linecap="square"/>
<line x1="340" y1="746.4" x2="533" y2="746.4" stroke="#000000" stroke-width="11" stroke-linecap="round"/>
<line x1="340" y1="881.2" x2="533" y2="881.2" stroke="#ff0000" stroke-width="11" stroke-linecap="round"/>
<line x1="340" y1="1016.6" x2="533" y2="1016.6" stroke="#00ff00" stroke-width="11" stroke-linecap="round"/>
<line x1="340" y1="1151.9" x2="533" y2="1151.9" stroke="#9300ff" stroke-width="11" stroke-linecap="round"/>
<text class="b" transform="translate(433.36 1307.60) scale(1.0000 1.0450)" font-size="85.40">1.8</text>
<text transform="translate(387.27 1309.61) scale(1 0.8152)" font-size="80.61" style="fill:#000">&#8722;</text>
<text class="b" transform="translate(854.86 1307.60) scale(1.0000 1.0450)" font-size="85.40">1.5</text>
<text transform="translate(808.21 1309.61) scale(1 0.8030)" font-size="81.84" style="fill:#000">&#8722;</text>
<text class="b" transform="translate(1276.21 1307.60) scale(1.0000 1.0450)" font-size="85.40">1.2</text>
<text transform="translate(1229.27 1309.61) scale(1 0.7951)" font-size="82.65" style="fill:#000">&#8722;</text>
<text class="b" transform="translate(1698.11 1307.60) scale(1.0000 1.0450)" font-size="85.40">0.9</text>
<text transform="translate(1650.71 1309.61) scale(1 0.7835)" font-size="83.88" style="fill:#000">&#8722;</text>
<text class="b" transform="translate(151.02 316.20) scale(1.0000 1.0450)" font-size="85.40">10</text>
<text transform="translate(235.88 258.61) scale(1 0.4406)" font-size="58.37" style="fill:#555">&#8722;</text>
<text class="b" transform="translate(273.19 269.00) scale(1.0000 1.0600)" font-size="45.50">8</text>
<text class="b" transform="translate(155.42 773.60) scale(1.0000 1.0450)" font-size="85.40">10</text>
<text transform="translate(243.43 718.61) scale(1 0.4649)" font-size="55.31" style="fill:#555">&#8722;</text>
<text class="b" transform="translate(279.04 727.10) scale(1.0000 1.0600)" font-size="45.50">6</text>
<text class="b" transform="translate(148.92 1236.80) scale(1.0000 1.0450)" font-size="85.40">10</text>
<text transform="translate(230.28 1177.61) scale(1 0.3652)" font-size="70.41" style="fill:#555">&#8722;</text>
<text class="b" transform="translate(271.42 1188.20) scale(1.0000 1.0600)" font-size="45.50">10</text>
<text class="b" transform="translate(655.33 775.50) scale(1.0000 1.0200)" font-size="85.70">0 h</text>
<text class="b" transform="translate(607.34 910.70) scale(1.0000 1.0200)" font-size="85.70">24 h</text>
<text class="b" transform="translate(607.34 1045.90) scale(1.0000 1.0200)" font-size="85.70">48 h</text>
<text class="b" transform="translate(559.35 1181.10) scale(1.0000 1.0200)" font-size="85.70">168 h</text>
<text class="b" transform="translate(565.37 1420.50) scale(1.0000 1.0370)" font-size="99.05">E <tspan font-style="italic">vs.</tspan> Ag/AgCl, 3M KCl (V)</text>
<text class="b" transform="translate(130.5 840.4) rotate(-90) scale(1 1.03)" font-size="98.6">i (A/cm<tspan font-size="70.7" dy="-47">2</tspan><tspan dy="47">)</tspan></text>
</svg>
</body></html>
